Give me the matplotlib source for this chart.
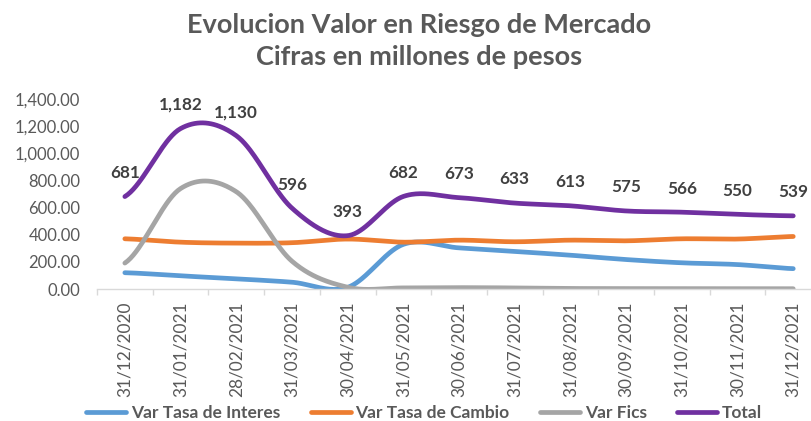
import numpy as np
import matplotlib
matplotlib.use("Agg")
import matplotlib.pyplot as plt
from matplotlib.ticker import FuncFormatter, FixedLocator

fechas = ["31/12/2020", "31/01/2021", "28/02/2021", "31/03/2021", "30/04/2021",
          "31/05/2021", "30/06/2021", "31/07/2021", "31/08/2021", "30/09/2021",
          "31/10/2021", "30/11/2021", "31/12/2021"]
tasa_interes = [120, 97, 75, 50, 12, 329, 303, 277, 249, 217, 193, 180, 150]
tasa_cambio = [370, 345, 338, 341, 368, 345, 360, 348, 360, 355, 370, 368, 387]
fics = [191, 740, 717, 205, 13, 8, 10, 8, 4, 3, 3, 2, 2]
total = [681, 1182, 1130, 596, 393, 682, 673, 633, 613, 575, 566, 550, 539]

series_names = ["Var Tasa de Interes", "Var Tasa de Cambio", "Var Fics", "Total"]
colors = ["#5B9BD5", "#ED7D31", "#A5A5A5", "#7030A0"]
title_lines = ["Evolucion Valor en Riesgo de Mercado", "Cifras en millones de pesos"]

FONT = ["Lato", "DejaVu Sans"]
plt.rcParams['font.family'] = FONT
TXT = "#595959"


def smooth(y, n=40):
    """Catmull-Rom (Excel-style) smoothing through the data points."""
    y = np.asarray(y, dtype=float)
    x = np.arange(len(y), dtype=float)
    m = np.zeros_like(y)
    m[1:-1] = (y[2:] - y[:-2]) / 2.0
    m[0] = (y[1] - y[0]) / 2.0
    m[-1] = (y[-1] - y[-2]) / 2.0
    xs, ys = [], []
    t = np.linspace(0, 1, n, endpoint=False)
    h00 = 2 * t**3 - 3 * t**2 + 1
    h10 = t**3 - 2 * t**2 + t
    h01 = -2 * t**3 + 3 * t**2
    h11 = t**3 - t**2
    for i in range(len(y) - 1):
        xs.append(x[i] + t)
        ys.append(h00 * y[i] + h10 * m[i] + h01 * y[i + 1] + h11 * m[i + 1])
    xs.append([x[-1]])
    ys.append([y[-1]])
    return np.concatenate(xs), np.concatenate(ys)


W, H = 811, 421
fig = plt.figure(figsize=(W / 100, H / 100), dpi=100)
ax = fig.add_axes([97 / W, (H - 289) / H, (13 * 55.7) / W, 190 / H])

data = [tasa_interes, tasa_cambio, fics, total]
for vals, name, c in zip(data, series_names, colors):
    xs, ys = smooth(vals)
    ax.plot(xs, ys, color=c, lw=3.4, label=name, solid_capstyle='round')

for i, v in enumerate(total):
    ax.annotate(f"{v:,}", (i, v), xytext=(0, 17), textcoords="offset points",
                ha="center", va="center", fontsize=12.3, fontweight="bold",
                color="#404040")

ax.set_xlim(-0.5, 12.5)
ax.set_ylim(0, 1400)
ax.set_yticks(np.arange(0, 1401, 200))
ax.yaxis.set_major_formatter(FuncFormatter(lambda v, p: f"{v:,.2f}"))
ax.tick_params(axis='y', length=0, pad=12, labelsize=12, labelcolor=TXT)

ax.set_xticks(range(len(fechas)))
ax.set_xticklabels(fechas, rotation=90)
ax.xaxis.set_minor_locator(FixedLocator(np.arange(-0.5, 13, 1.0)))
ax.tick_params(axis='x', which='major', length=0, pad=9, labelsize=12.4, labelcolor=TXT)
ax.tick_params(axis='x', which='minor', length=4, color="#D9D9D9", width=1)

for s in ["top", "right", "left"]:
    ax.spines[s].set_visible(False)
ax.spines["bottom"].set_color("#D9D9D9")
ax.spines["bottom"].set_linewidth(1)

fig.text(419 / W, 1 - 33 / H, title_lines[0], ha="center", va="baseline",
         fontsize=19.5, fontweight="bold", color=TXT)
fig.text(419 / W, 1 - 65 / H, title_lines[1], ha="center", va="baseline",
         fontsize=19.5, fontweight="bold", color=TXT)

fs_leg = 12.5
px = fs_leg * 100 / 72
leg = fig.legend(loc="center", bbox_to_anchor=(424 / W, (H - 413) / H), ncol=4,
                 frameon=False, handlelength=40 / px, handletextpad=5 / px,
                 columnspacing=30 / px,
                 prop={"family": FONT, "weight": "bold", "size": fs_leg})
for t in leg.get_texts():
    t.set_color(TXT)

fig.savefig("out.png", dpi=100)
